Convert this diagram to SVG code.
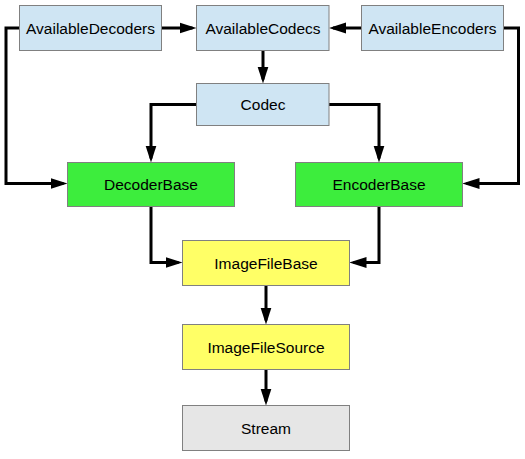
<svg xmlns="http://www.w3.org/2000/svg" width="525" height="459" viewBox="0 0 525 459">
<defs>
<marker id="ah" markerUnits="userSpaceOnUse" markerWidth="17" markerHeight="12" refX="13" refY="6" orient="auto">
<path d="M0,0.5 L17,6 L0,11.5 z" fill="#000"/>
</marker>
</defs>
<style>
.node rect{stroke:#808080;stroke-width:1}
.blue{fill:#cfe5f3}
.green{fill:#3ded3d}
.yellow{fill:#ffff66}
.gray{fill:#e6e6e6}
text{font-family:"Liberation Sans",Arial,sans-serif;font-size:15.5px;fill:#000;text-anchor:middle;dominant-baseline:central}
.conn path{fill:none;stroke:#000;stroke-width:3;stroke-linejoin:miter;marker-end:url(#ah)}
</style>
<rect x="0" y="0" width="525" height="459" fill="#fff"/>
<g class="conn" id="connectors">
<path d="M161.5,28 L192.5,28"/>
<path d="M361.5,28 L333,28"/>
<path d="M19.5,28 L6,28 L6,183.5 L63.5,183.5"/>
<path d="M503.5,28 L518.5,28 L518.5,183.5 L466.5,183.5"/>
<path d="M263,50.5 L263,79.5"/>
<path d="M196.5,104.5 L151,104.5 L151,158.5"/>
<path d="M329,104.5 L379,104.5 L379,158.5"/>
<path d="M151,206.5 L151,262.5 L178.5,262.5"/>
<path d="M379,206.5 L379,262.5 L353.5,262.5"/>
<path d="M266,285.5 L266,320.5"/>
<path d="M266,369.5 L266,401.5"/>
</g>
<g class="node" id="AvailableDecoders"><rect class="blue" x="19.5" y="5.5" width="142" height="45"/><text x="90.5" y="28">AvailableDecoders</text></g>
<g class="node" id="AvailableCodecs"><rect class="blue" x="196.5" y="5.5" width="132.5" height="45"/><text x="263" y="28">AvailableCodecs</text></g>
<g class="node" id="AvailableEncoders"><rect class="blue" x="361.5" y="5.5" width="142" height="45"/><text x="432.5" y="28">AvailableEncoders</text></g>
<g class="node" id="Codec"><rect class="blue" x="196.5" y="83.5" width="132.5" height="42"/><text x="263" y="104.5">Codec</text></g>
<g class="node" id="DecoderBase"><rect class="green" x="67.5" y="162.5" width="167" height="44"/><text x="151" y="184">DecoderBase</text></g>
<g class="node" id="EncoderBase"><rect class="green" x="295.5" y="162.5" width="167" height="44"/><text x="379" y="184">EncoderBase</text></g>
<g class="node" id="ImageFileBase"><rect class="yellow" x="182.5" y="240.5" width="167" height="45"/><text x="266" y="263">ImageFileBase</text></g>
<g class="node" id="ImageFileSource"><rect class="yellow" x="182.5" y="324.5" width="167" height="45"/><text x="266" y="347">ImageFileSource</text></g>
<g class="node" id="Stream"><rect class="gray" x="182.5" y="405.5" width="167" height="45"/><text x="266" y="428">Stream</text></g>
</svg>
